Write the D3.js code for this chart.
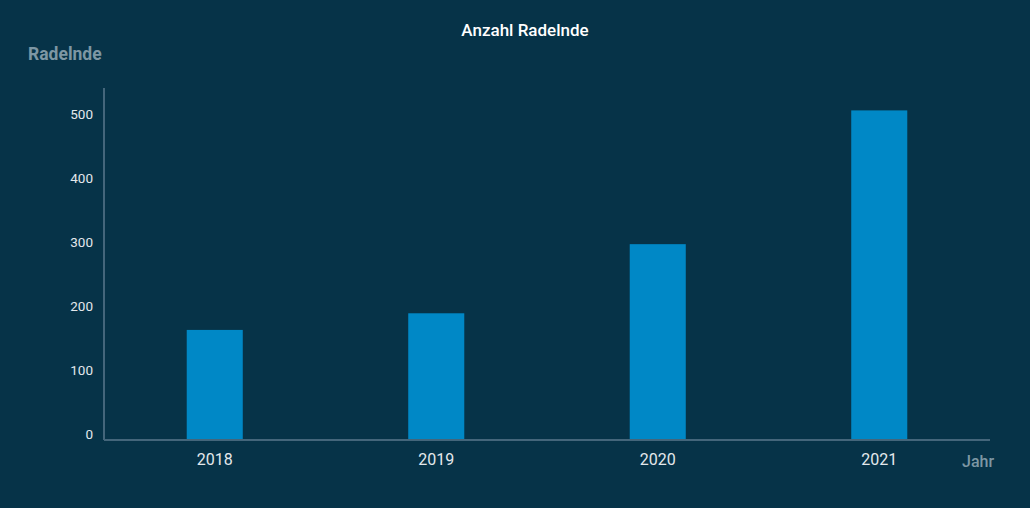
<!DOCTYPE html>
<html><head><meta charset="utf-8">
<script src="https://cdn.jsdelivr.net/npm/d3@7"></script>
<style>
html,body{margin:0;padding:0;background:#063348;}
svg{display:block;font-family:Roboto,"Noto Sans",sans-serif;}
</style></head>
<body>
<svg id="c" width="1030" height="508"></svg>
<script>
const categories = ["2018","2019","2020","2021"];
const values = [172, 198, 306, 515];
const yTicks = [0,100,200,300,400,500];

const svg = d3.select("#c");
svg.append("rect").attr("width",1030).attr("height",508).attr("fill","#063348");

const x = d3.scaleBand().domain(categories).range([104,990]).paddingInner(0.747).paddingOuter(0.3735);
const y = d3.scaleLinear().domain([0,500]).range([440,120]);

svg.append("text").attr("x",525).attr("y",36).attr("text-anchor","middle")
  .attr("fill","#ffffff").attr("font-size",17).attr("font-weight",500).text("Anzahl Radelnde");
svg.append("text").attr("x",28).attr("y",60)
  .attr("fill","#7d97a4").attr("font-size",17.5).attr("font-weight",700).text("Radelnde");
svg.append("text").attr("x",962).attr("y",467)
  .attr("fill","#7d97a4").attr("font-size",16).attr("font-weight",500).text("Jahr");

svg.selectAll("rect.bar").data(values).join("rect").attr("class","bar")
  .attr("x",(d,i)=>x(categories[i])).attr("width",x.bandwidth())
  .attr("y",d=>y(d)).attr("height",d=>y(0)-y(d)).attr("fill","#0088c6");

const yAxis = svg.append("g").attr("transform","translate(104,0)")
  .call(d3.axisLeft(y).tickValues(yTicks).tickSize(0).tickPadding(11));
yAxis.select(".domain").attr("stroke","#44667b").attr("stroke-width",2).attr("d","M0,88V440");
yAxis.selectAll("text").attr("fill","#e3e8ec").attr("font-size",13.5).attr("dy","-0.1em")
  .attr("font-family","Roboto,sans-serif");

const xAxis = svg.append("g").attr("transform","translate(0,440)")
  .call(d3.axisBottom(x).tickSize(0).tickPadding(14));
xAxis.select(".domain").attr("stroke","#44667b").attr("stroke-width",2).attr("d","M104,0H990");
xAxis.selectAll("text").attr("fill","#e3e8ec").attr("font-size",16)
  .attr("font-family","Roboto,sans-serif");
</script>
</body></html>
